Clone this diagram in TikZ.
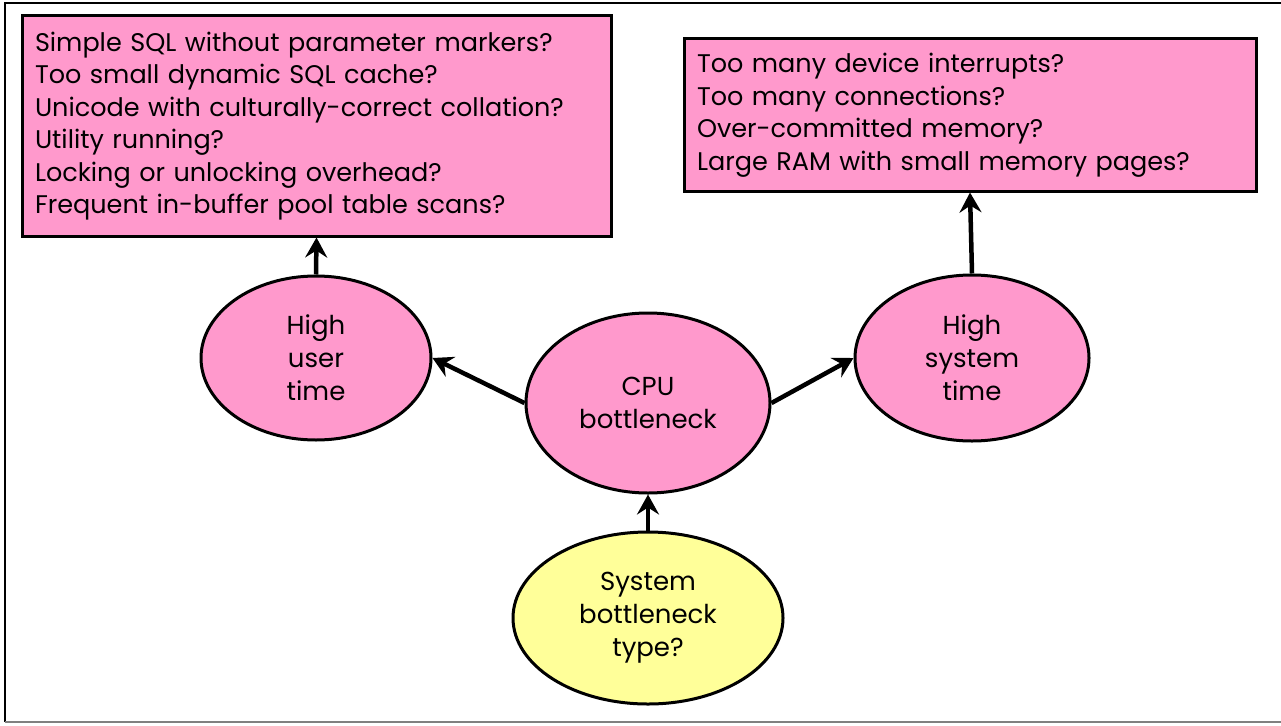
\documentclass[tikz,border=0pt]{standalone}
\usepackage{fontspec}
\setmainfont{Poppins}
\usetikzlibrary{arrows.meta,shapes.geometric}
\definecolor{boxpink}{HTML}{FF99CC}
\definecolor{boxyellow}{HTML}{FFFF99}
\tikzset{
	qbox/.style={draw=black, line width=3pt, fill=boxpink, rectangle, inner xsep=13pt, align=left,
		font=\fontsize{25.5}{32.5}\selectfont},
	cause/.style={draw=black, line width=3pt, fill=boxpink, ellipse, inner sep=0pt, align=center,
		font=\fontsize{26}{33}\selectfont},
	link/.style={line width=4.5pt, -{Stealth[length=20pt,width=22pt,inset=7pt]}}
}

\begin{document}
\begin{tikzpicture}[x=1pt, y=-1pt]
			%%%%% START %%%%%
			
			\useasboundingbox (0, 0) rectangle (1281, 725);
			
			\draw[line width=2.5pt] (5, 722) -- (5, 3) -- (1281, 3);
			\draw[line width=2pt, color=black!50] (5, 722) -- (1281, 722);
			
			\node[qbox, minimum width=589pt, minimum height=220pt, text width=563pt] (userbox) at (316.5, 126) {Simple SQL without parameter markers?\\Too small dynamic SQL cache?\\Unicode with culturally-correct collation?\\Utility running?\\Locking or unlocking overhead?\\Frequent in-buffer pool table scans?};
			\node[qbox, minimum width=572pt, minimum height=152pt, text width=546pt] (sysbox) at (970, 115) {Too many device interrupts?\\Too many connections?\\Over-committed memory?\\Large RAM with small memory pages?};
			
			\node[cause, minimum width=230pt, minimum height=164pt] (user) at (316, 358) {High\\user\\time};
			\node[cause, minimum width=244pt, minimum height=180pt] (cpu) at (648, 403) {CPU\\bottleneck};
			\node[cause, minimum width=234pt, minimum height=166pt] (sys) at (972, 358) {High\\system\\time};
			\node[cause, fill=boxyellow, minimum width=270pt, minimum height=172pt] (type) at (648, 618) {System\\bottleneck\\type?};
			
			\draw[link] (type.north) -- (cpu.south);
			\draw[link] (cpu.west) -- (user.east);
			\draw[link] (cpu.east) -- (sys.west);
			\draw[link] (user.north) -- (userbox.south);
			\draw[link] (sys.north) -- (sysbox.south);
			
			%%%%% END %%%%%
\end{tikzpicture}
\end{document}
